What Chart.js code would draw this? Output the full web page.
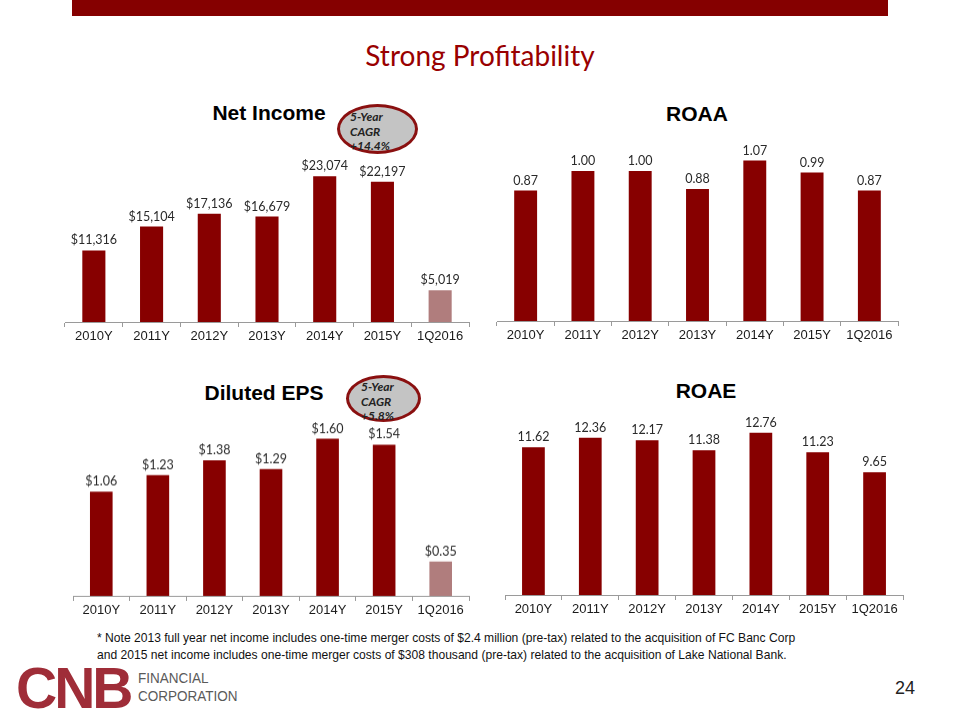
<!DOCTYPE html>
<html><head><meta charset="utf-8">
<script src="https://cdn.jsdelivr.net/npm/chart.js@4.4.0/dist/chart.umd.min.js"></script>
<style>
body{margin:0;width:960px;height:720px;position:relative;background:#fff;overflow:hidden;font-family:'Liberation Sans',Arial,sans-serif}
.abs{position:absolute;white-space:nowrap}
#topbar{left:72px;top:0;width:816px;height:16px;background:#850000}
#title{left:0;width:960px;top:38px;text-align:center;font-family:Lato,sans-serif;font-size:28px;color:#990000}
.ctitle{font-weight:bold;font-size:21px;color:#000;transform:translate(-50%,-50%)}
.ell{border:3px solid #8a1010;border-radius:50%;background:#c4c4c4;box-sizing:border-box}
.ell div{position:absolute;font-family:Lato,sans-serif;font-style:italic;font-weight:bold;font-size:12px;color:#222;line-height:14.5px}
canvas{position:absolute}
#note{left:97px;top:629px;font-size:13px;color:#111;line-height:17px;transform:scaleX(0.93);transform-origin:left top}
#pg{left:895px;top:678px;font-size:18px;color:#222}
#cnb{left:16px;top:655px;font-weight:bold;font-size:57px;color:#9f2d38;letter-spacing:-3px}
#fin{left:138px;top:669px;font-size:15px;color:#5a5a5a;line-height:18px;transform:scaleX(0.9);transform-origin:left top}
</style></head><body>
<div class="abs" id="topbar"></div>
<div class="abs" id="title">Strong Profitability</div>

<div class="abs ctitle" style="left:269px;top:113px">Net Income</div>
<div class="abs ctitle" style="left:697px;top:114px">ROAA</div>
<div class="abs ctitle" style="left:264px;top:393px">Diluted EPS</div>
<div class="abs ctitle" style="left:706px;top:391px">ROAE</div>

<div class="abs ell" style="left:337px;top:104px;width:81px;height:50px"><div style="left:10px;top:3px">5-Year<br>CAGR<br>+14.4%</div></div>
<div class="abs ell" style="left:346px;top:375px;width:75px;height:47px"><div style="left:12px;top:2px">5-Year<br>CAGR<br>+5.8%</div></div>

<canvas id="c1"></canvas>
<canvas id="c2"></canvas>
<canvas id="c3"></canvas>
<canvas id="c4"></canvas>

<div class="abs" id="note">* Note 2013 full year net income includes one-time merger costs of $2.4 million (pre-tax) related to the acquisition of FC Banc Corp<br>and 2015 net income includes one-time merger costs of $308 thousand (pre-tax) related to the acquisition of Lake National Bank.</div>
<div class="abs" id="cnb">CNB</div>
<div class="abs" id="fin">FINANCIAL<br>CORPORATION</div>
<div class="abs" id="pg">24</div>

<script>
// ---- data ----
const categories = ['2010Y','2011Y','2012Y','2013Y','2014Y','2015Y','1Q2016'];
const netIncome = [11316, 15104, 17136, 16679, 23074, 22197, 5019];
const roaa = [0.87, 1.00, 1.00, 0.88, 1.07, 0.99, 0.87];
const dilutedEps = [1.06, 1.23, 1.38, 1.29, 1.60, 1.54, 0.35];
const roae = [11.62, 12.36, 12.17, 11.38, 12.76, 11.23, 9.65];

const DARK = '#870000';
const LIGHT = '#b07d7d';
const X_AXIS_H = 30;

function labelsPlugin(fmt){
  return {
    id:'valueLabels',
    afterDatasetsDraw(chart){
      const ctx = chart.ctx;
      const meta = chart.getDatasetMeta(0);
      const data = chart.data.datasets[0].data;
      ctx.save();
      ctx.font = '12.5px Lato';
      ctx.fillStyle = '#2a2a2a';
      ctx.textAlign = 'center';
      ctx.textBaseline = 'alphabetic';
      meta.data.forEach((bar,i)=>{ ctx.fillText(fmt(data[i]), bar.x, bar.y - 6); });
      ctx.restore();
    }
  };
}

function makeChart(id, values, colors, max, fmt, box){
  const cv = document.getElementById(id);
  const L = box.left - 10, T = box.top - 20;
  const W = box.right - box.left + 20;
  const H = box.axisY - T + X_AXIS_H;
  cv.width = W; cv.height = H;
  cv.style.left = L + 'px'; cv.style.top = T + 'px';
  cv.style.width = W + 'px'; cv.style.height = H + 'px';
  new Chart(cv, {
    type:'bar',
    data:{ labels: categories, datasets:[{ data: values, backgroundColor: colors, barPercentage:0.4, categoryPercentage:1 }] },
    options:{
      responsive:false, animation:false, devicePixelRatio:1,
      layout:{ padding:{ left:10, right:10, top: box.top - T, bottom:0 } },
      plugins:{ legend:{display:false}, tooltip:{enabled:false} },
      scales:{
        y:{ display:false, min:0, max:max },
        x:{
          afterFit(s){ s.height = X_AXIS_H; },
          border:{ display:true, color:'#9a9a9a', width:1 },
          grid:{ display:true, drawOnChartArea:false, drawTicks:true, tickLength:5, offset:true, color:'#9a9a9a' },
          ticks:{ color:'#1a1a1a', font:{ family:"'Liberation Sans', Arial", size:13 }, padding:2, maxRotation:0, autoSkip:false }
        }
      }
    },
    plugins:[labelsPlugin(fmt)]
  });
}

const niColors = categories.map((c,i)=> i === categories.length-1 ? LIGHT : DARK);
const allDark = categories.map(()=>DARK);

makeChart('c1', netIncome, niColors, 25000, v=>'$'+v.toLocaleString('en-US'), {left:65, right:469, top:163.5, axisY:321.5});
makeChart('c2', roaa, allDark, 1.2, v=>v.toFixed(2), {left:497, right:898, top:140.5, axisY:320.5});
makeChart('c3', dilutedEps, niColors, 1.8, v=>'$'+v.toFixed(2), {left:73, right:469, top:419, axisY:595.5});
makeChart('c4', roae, allDark, 14, v=>v.toFixed(2), {left:505, right:903, top:417, axisY:595});
</script>
</body></html>
